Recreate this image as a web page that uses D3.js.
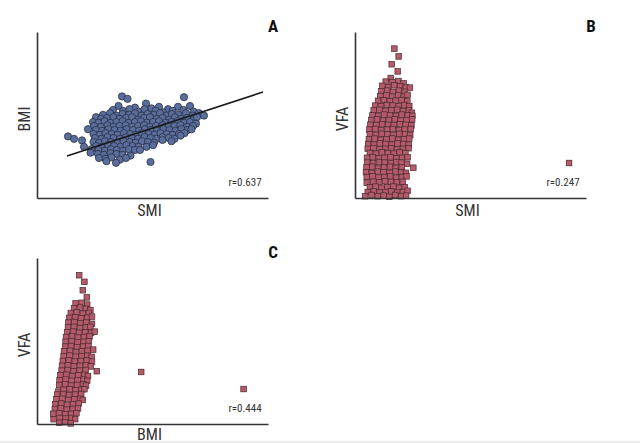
<!DOCTYPE html>
<html><head><meta charset="utf-8">
<script src="https://cdn.jsdelivr.net/npm/d3@7"></script>
<style>
body{margin:0;background:#fff}
text{font-family:"Liberation Sans Narrow","Roboto Condensed","Arial Narrow","Liberation Sans",sans-serif}
</style>
</head><body>
<svg id="chart" width="640" height="443"></svg>
<script>
// ---- Panel A: SMI (x) vs BMI (y)
const smiBmi = [
[42.0,26.7],[43.1,26.4],[54.4,26.6],
[41.3,25.5],[44.6,25.3],[46.8,25.8],[49.4,25.4],[51.2,25.1],[53.2,25.4],[55.6,25.5],[47.9,25.2],
[40.2,25.0],[42.2,24.9],[43.5,25.1],[45.3,24.8],[46.5,25.1],[48.7,24.9],[50.2,24.7],[52.1,24.9],[54.3,25.0],[56.3,24.8],[57.4,24.6],
[38.2,24.4],[39.6,24.6],[40.9,24.3],[42.1,24.5],[43.4,24.4],[44.6,24.6],[45.9,24.3],[47.1,24.5],[48.4,24.4],[49.6,24.6],[50.9,24.3],[52.0,24.5],[53.3,24.4],[54.8,24.6],[56.1,24.3],[58.4,24.3],
[36.8,24.1],[37.8,23.9],[39.0,24.0],[40.3,24.1],[41.5,23.9],[42.8,24.0],[44.0,24.1],[45.2,23.8],[46.4,24.0],[47.6,24.1],[48.9,23.9],[50.1,24.0],[51.4,23.8],[52.6,24.1],[53.8,23.9],[55.0,24.0],[56.3,23.8],[57.0,24.1],
[36.2,23.5],[37.3,23.4],[38.5,23.6],[39.7,23.4],[40.9,23.5],[42.1,23.6],[43.3,23.4],[44.6,23.5],[45.8,23.6],[47.0,23.4],[48.2,23.5],[49.4,23.6],[50.7,23.4],[51.9,23.5],[53.1,23.6],[54.4,23.4],[55.6,23.5],[56.8,23.3],
[36.4,23.0],[37.8,22.9],[39.1,23.1],[40.3,22.9],[41.5,23.0],[42.7,23.1],[44.0,22.9],[45.2,23.0],[46.4,23.1],[47.6,22.9],[48.8,23.0],[50.1,23.1],[51.3,22.9],[52.5,23.0],[53.7,23.1],[55.0,22.9],[56.2,23.0],
[35.2,22.6],[36.8,22.5],[38.0,22.4],[39.3,22.6],[40.5,22.5],[41.7,22.4],[42.9,22.6],[44.2,22.5],[45.4,22.4],[46.6,22.6],[47.8,22.5],[49.0,22.4],[50.3,22.6],[51.5,22.5],[52.7,22.4],[53.9,22.6],[55.1,22.5],[55.9,22.6],
[36.3,22.0],[37.5,21.9],[38.7,22.1],[39.9,22.0],[41.1,21.9],[42.4,22.1],[43.6,22.0],[44.8,21.9],[46.0,22.1],[47.3,22.0],[48.5,21.9],[49.7,22.1],[50.9,22.0],[52.1,21.9],[53.4,22.0],[54.5,22.1],
[31.2,21.7],[36.6,21.5],[37.9,21.4],[39.1,21.6],[40.3,21.5],[41.6,21.4],[42.8,21.6],[44.0,21.5],[45.2,21.4],[46.5,21.6],[47.7,21.5],[48.9,21.4],[50.1,21.6],[51.3,21.5],[52.5,21.4],[53.7,21.8],
[32.4,21.4],[34.0,21.2],[36.3,21.0],[37.4,20.9],[38.6,21.1],[39.8,21.0],[41.1,20.9],[42.3,21.1],[43.5,21.0],[44.7,20.9],[46.0,21.1],[47.2,21.0],[48.4,20.9],[50.1,21.25],[51.9,21.1],
[34.4,20.4],[36.8,20.5],[38.0,20.4],[39.2,20.6],[40.4,20.5],[41.7,20.4],[42.9,20.6],[44.1,20.5],[45.3,20.4],[46.9,20.4],[48.2,20.6],
[35.9,20.1],[37.3,20.0],[38.6,19.9],[39.8,20.1],[41.0,20.0],[42.2,19.9],[43.4,20.1],[44.6,20.0],[45.6,20.0],
[35.7,19.66],[37.2,19.5],[38.4,19.4],[39.7,19.6],[40.9,19.5],[42.1,19.4],[43.7,19.3],
[37.4,19.0],[38.7,18.9],[39.9,19.1],[41.6,18.8],[42.8,19.0],
[38.9,18.6],[40.8,18.4],[47.7,18.5]
];
const fitSmi = [31, 70.2];
const fitBmi = [19.25, 27.25];

// ---- Panel B: SMI (x) vs VFA (y)
const smiVfa = [
[43.4,249],[45.2,236],[42.3,223],[44.8,211],[41.9,200],
[39.8,194],[42.6,193],[45.1,195],[47.2,191],
[38.4,187],[40.9,185],[43.3,188],[45.8,186],[48.2,185],[49.9,184],
[38.0,178],[40.4,179],[42.9,177],[45.3,179],[47.8,177],
[37.6,170],[40.1,171],[42.5,169],[45.0,171],[47.4,169],[48.9,172],
[36.6,162],[39.0,163],[41.5,161],[43.9,162],[46.4,163],[48.8,161],
[35.4,154],[37.8,153],[40.3,155],[42.7,154],[45.2,153],[47.6,155],[49.6,153],
[34.8,146],[37.2,147],[39.7,145],[42.1,146],[44.6,147],[47.0,145],[49.5,146],[50.7,142],
[34.3,138],[36.7,137],[39.2,139],[41.6,138],[44.1,137],[46.5,139],[49.0,138],[50.9,137],
[33.8,130],[36.2,131],[38.7,129],[41.1,130],[43.6,131],[46.0,129],[48.5,130],[50.8,131],
[33.4,122],[35.9,121],[38.3,123],[40.8,122],[43.2,121],[45.7,123],[48.1,122],[50.5,121],
[33.0,114],[35.5,115],[37.9,113],[40.4,114],[42.8,115],[45.3,113],[47.7,114],[50.2,115],
[33.2,106],[35.6,105],[38.1,107],[40.5,106],[43.0,105],[45.4,107],[47.9,106],[50.0,105],
[32.8,98],[35.2,99],[37.7,97],[40.1,98],[42.6,99],[45.0,97],[47.5,98],[49.6,99],
[32.5,90],[34.9,89],[37.4,91],[39.8,90],[42.3,89],[44.7,91],[47.2,90],[49.4,89],
[32.3,82],[34.7,83],[37.2,81],[39.6,82],[42.1,83],[44.5,81],[47.0,82],[49.3,83],
[33.2,75],[35.8,74],[38.2,76],[40.7,75],[43.1,74],[45.6,76],[48.0,75],
[32.0,67],[34.4,68],[36.9,66],[39.3,67],[41.8,68],[44.2,66],[46.7,67],[48.9,68],
[32.1,59],[34.5,58],[37.0,60],[39.4,59],[41.9,58],[44.3,60],[46.4,59],[48.7,57],[51.3,50.5],
[31.8,51],[34.2,52],[36.7,50],[39.1,51],[41.6,52],[44.0,50],[46.5,51],
[31.6,43],[34.0,42],[36.5,44],[38.9,43],[41.4,42],[43.8,44],[46.3,43],[48.2,42],
[31.9,35],[34.3,36],[36.8,34],[39.2,35],[41.7,36],[44.1,34],[46.6,35],[48.5,36],
[31.9,25.5],[34.6,27],[37.1,26],[39.5,28],[42.0,27],[44.4,26],[46.9,27],
[33.2,18],[35.6,19],[38.1,17],[40.5,18],[43.0,19],[45.4,17],[47.7,18],
[32.3,10],[34.8,11],[37.2,9],[39.7,10],[42.1,11],[44.6,9],[47.0,10],[48.9,12],
[31.2,3],[33.9,5],[36.5,3],[38.9,4],[41.3,2],[43.8,5],[46.2,3],[48.3,4],
[116.2,58.3]
];

// ---- Panel C: BMI (x) vs VFA (y)
const bmiVfa = [
[24.3,248],[25.6,237],[25.2,223],[26.2,211],
[23.4,201],[24.9,202],[26.3,199],
[23.0,193],[24.5,194],[26.0,192],[27.1,190],
[22.2,185],[23.7,186],[25.2,184],[26.7,185],
[21.8,177],[23.3,178],[24.8,176],[26.3,177],[27.5,179],
[21.6,169],[23.1,170],[24.6,168],[26.1,169],[27.5,167],
[21.5,161],[23.0,162],[24.5,160],[26.0,161],[27.1,162],
[21.3,153],[22.8,154],[24.3,152],[25.8,153],[27.3,152],[28.2,154],
[21.0,145],[22.5,146],[24.0,144],[25.5,145],[26.9,146],
[20.9,137],[22.4,138],[23.9,136],[25.4,137],[26.7,138],
[20.8,129],[22.3,130],[23.8,128],[25.3,129],[26.6,130],[27.8,124],
[20.5,121],[22.0,122],[23.5,120],[25.0,121],[26.4,122],
[20.4,113],[21.9,114],[23.4,112],[24.9,113],[26.3,114],[27.4,112],
[20.2,105],[21.7,106],[23.2,104],[24.7,105],[26.2,106],[27.5,104],
[20.0,97],[21.5,98],[23.0,96],[24.5,97],[26.0,98],[27.2,96],
[19.9,89],[21.4,90],[22.9,88],[24.4,89],[25.9,90],[28.7,88],
[19.6,81],[21.1,82],[22.6,80],[24.1,81],[25.6,82],[26.5,80],
[19.4,73],[20.9,74],[22.4,72],[23.9,73],[25.4,74],[26.3,72],
[19.3,65],[20.8,66],[22.3,64],[23.8,65],[25.3,66],[26.0,64],
[19.1,54],[20.4,57],[21.9,58],[23.4,56],[24.9,57],[25.6,58],
[18.8,49],[20.3,50],[21.8,48],[23.3,49],[24.8,50],
[18.6,41],[20.1,42],[21.6,40],[23.1,41],[24.6,42],[25.2,40],
[18.3,33],[19.8,34],[21.3,32],[22.8,33],[24.2,34],
[18.2,25],[19.7,26],[21.2,24],[22.7,25],[24.0,26],
[17.8,17],[19.3,18],[20.8,16],[22.3,17],[23.6,18],
[17.9,8],[19.4,10],[20.9,9],[22.4,10],[23.3,8],
[19.3,2],[20.8,3],[22.2,1],
[39.8,86.7],[65.4,58.3]
];

const panelLetters = ["A","B","C"];
const corrLabels = ["r=0.637","r=0.247","r=0.444"];
const xTitles = ["SMI","SMI","BMI"];
const yTitles = ["BMI","VFA","VFA"];

const svg = d3.select("#chart");
const panels = [
  {data: smiBmi, xDom:[25,71.2], yDom:[14,34.75], left:37, right:268, top:32, bottom:198, marker:"circle"},
  {data: smiVfa, xDom:[27,123.25], yDom:[0,276.7], left:355, right:586, top:32, bottom:198, marker:"square"},
  {data: bmiVfa, xDom:[13.75,71.5], yDom:[0,276.7], left:37, right:268, top:258, bottom:424, marker:"square"}
];

panels.forEach((p,i)=>{
  const x = d3.scaleLinear().domain(p.xDom).range([p.left,p.right]);
  const y = d3.scaleLinear().domain(p.yDom).range([p.bottom,p.top]);
  const g = svg.append("g");

  if (p.marker === "circle") {
    g.selectAll("circle").data(p.data).join("circle")
      .attr("cx", d=>x(d[0])).attr("cy", d=>y(d[1])).attr("r", 3.6)
      .attr("fill","#5a6e9e").attr("stroke","#2a3042").attr("stroke-width",0.8);
    const fit = d3.line().x(d=>x(d[0])).y(d=>y(d[1]));
    g.append("path").datum(d3.zip(fitSmi, fitBmi)).attr("d", fit)
      .attr("stroke","#1a1a1a").attr("stroke-width",1.6).attr("fill","none");
  } else {
    const s = 5.6;
    g.selectAll("rect").data(p.data).join("rect")
      .attr("x", d=>x(d[0])-s/2).attr("y", d=>y(d[1])-s/2)
      .attr("width", s).attr("height", s)
      .attr("fill","#b45a6a").attr("stroke","#4a2a2e").attr("stroke-width",0.7);
  }

  const xa = g.append("g").attr("transform",`translate(0,${p.bottom})`)
    .call(d3.axisBottom(x).ticks(0).tickSize(0).tickSizeOuter(0));
  const ya = g.append("g").attr("transform",`translate(${p.left},0)`)
    .call(d3.axisLeft(y).ticks(0).tickSize(0).tickSizeOuter(0));
  [xa,ya].forEach(a=>{ a.selectAll("text").remove(); a.select(".domain").attr("stroke","#333").attr("stroke-width",1.6); });

  const xtY = i === 2 ? p.bottom + 15.5 : p.bottom + 18;
  g.append("text").attr("x",(p.left+p.right)/2-3).attr("y",xtY)
    .attr("text-anchor","middle").attr("font-size",16).attr("fill","#333").text(xTitles[i]);
  g.append("text").attr("transform",`translate(${p.left-7},${(p.top+p.bottom)/2+4}) rotate(-90)`)
    .attr("text-anchor","middle").attr("font-size",16).attr("fill","#333").text(yTitles[i]);
  g.append("text").attr("x",p.right+5).attr("y",p.top)
    .attr("text-anchor","middle").attr("font-size",17).attr("font-weight","bold").attr("fill","#111").text(panelLetters[i]);
  g.append("text").attr("x",p.right-23).attr("y",p.bottom-12)
    .attr("text-anchor","middle").attr("font-size",11).attr("fill","#333").text(corrLabels[i]);
});

svg.append("rect").attr("x",0).attr("y",441).attr("width",640).attr("height",2).attr("fill","#ececec");
</script>
</body></html>
